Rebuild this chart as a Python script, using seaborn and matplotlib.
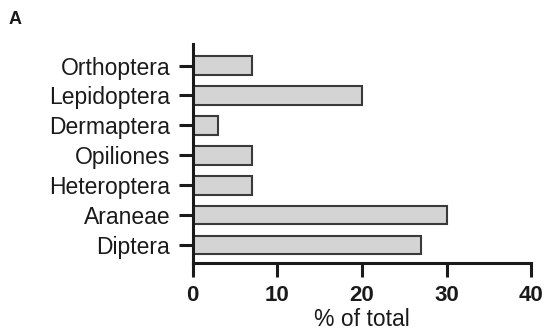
import matplotlib
matplotlib.use("Agg")
import matplotlib.pyplot as plt
import seaborn as sns
import pandas as pd

# Share of total catch per arthropod group
groups = ["Orthoptera", "Lepidoptera", "Dermaptera", "Opiliones",
          "Heteroptera", "Araneae", "Diptera"]
percent = [7, 20, 3, 7, 7, 30, 27]
x_ticks = [0, 10, 20, 30, 40]

df = pd.DataFrame({"group": groups, "percent": percent})

sns.set_theme(style="ticks")
plt.rcParams["font.family"] = ["Liberation Sans", "DejaVu Sans"]

ink = "#1a1a1a"
fig = plt.figure(figsize=(5.44, 3.31), dpi=100)
ax = fig.add_axes([0.354, 0.2054, 0.623, 0.6616])

sns.barplot(data=df, x="percent", y="group", order=groups, orient="h",
            color="#d4d4d4", edgecolor="#3a3a3a", linewidth=1.5,
            width=0.62, saturation=1, ax=ax)

ax.set_xlim(0, 40)
ax.set_ylim(6.6, -0.72)
ax.set_xticks(x_ticks)
ax.set_xticklabels([str(t) for t in x_ticks], fontsize=16, fontweight="bold", color=ink)
ax.tick_params(axis="y", labelsize=16.5, labelcolor=ink, length=10, width=2.2,
               color=ink, pad=6)
ax.tick_params(axis="x", length=10, width=2.2, color=ink, pad=6)
ax.set_ylabel("")
ax.set_xlabel("% of total", fontsize=16.5, color=ink, labelpad=1)

for side in ("top", "right"):
    ax.spines[side].set_visible(False)
for side in ("left", "bottom"):
    ax.spines[side].set_linewidth(2.2)
    ax.spines[side].set_color(ink)

fig.text(0.015, 0.927, "A", fontsize=13, fontweight="bold", color=ink)

fig.savefig("out.png", dpi=100)
